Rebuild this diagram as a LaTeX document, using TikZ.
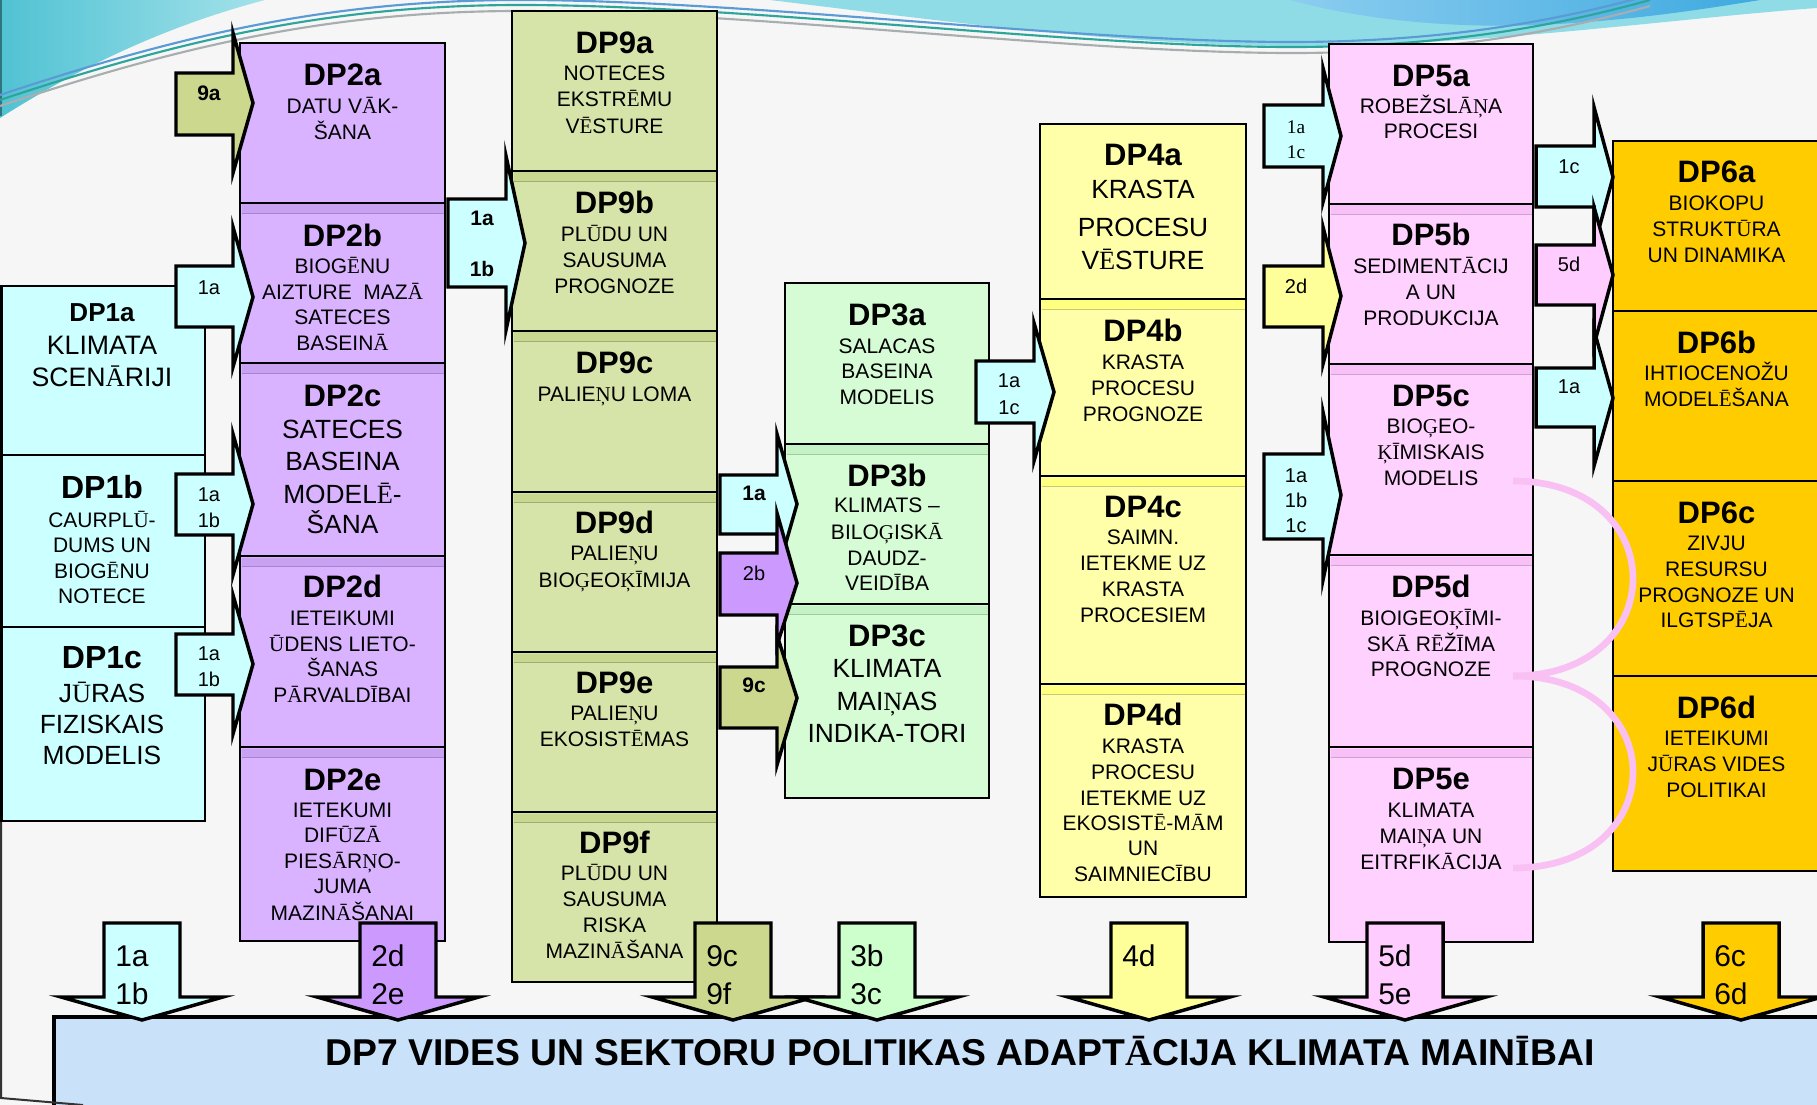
\documentclass[tikz,border=0pt]{standalone}
\usepackage{fontspec}
\setmainfont{Liberation Sans}
\newfontfamily\serifnum{Liberation Serif}
\newXeTeXintercharclass\mcls
\XeTeXcharclass"0100=\mcls
\XeTeXcharclass"0112=\mcls
\XeTeXcharclass"012A=\mcls
\XeTeXcharclass"016A=\mcls
\XeTeXcharclass"0145=\mcls
\XeTeXcharclass"0136=\mcls
\XeTeXcharclass"0122=\mcls
\XeTeXinterchartoks 0 \mcls = {\begingroup\serifnum}
\XeTeXinterchartoks 4095 \mcls = {\begingroup\serifnum}
\XeTeXinterchartoks \mcls 0 = {\endgroup}
\XeTeXinterchartoks \mcls 4095 = {\endgroup}
\definecolor{bg}{HTML}{F6F6F6}
\definecolor{cA}{HTML}{CCFFFF}
\definecolor{cB}{HTML}{D9B3FF}\definecolor{cBb}{HTML}{C9A1F2}\definecolor{cBl}{HTML}{A585D0}
\definecolor{cN}{HTML}{D7E4A9}\definecolor{cNb}{HTML}{C9D88F}\definecolor{cNl}{HTML}{9FAE78}
\definecolor{cC}{HTML}{D6FCD6}\definecolor{cCb}{HTML}{C4F2C4}\definecolor{cCl}{HTML}{9CCB9C}
\definecolor{cD}{HTML}{FFFFAA}\definecolor{cDb}{HTML}{FFFF80}\definecolor{cDl}{HTML}{C8C878}
\definecolor{cE}{HTML}{FFD1FF}\definecolor{cEb}{HTML}{F7C0F7}\definecolor{cEl}{HTML}{D0A0D0}
\definecolor{cF}{HTML}{FFCC00}
\definecolor{cG}{HTML}{C9E2F9}
\definecolor{aCyan}{HTML}{CCFFFF}
\definecolor{aOlive}{HTML}{CCD88E}
\definecolor{aPurple}{HTML}{CC99FF}
\definecolor{aYellow}{HTML}{FFFF99}
\definecolor{aPink}{HTML}{FFCCFF}
\definecolor{aGreen}{HTML}{CCFFCC}
\definecolor{aOrange}{HTML}{FFCC00}
\definecolor{tealA}{HTML}{50C2D3}
\definecolor{tealB}{HTML}{A4E2EA}
\definecolor{bandblue}{HTML}{8FDCE7}
\definecolor{lensA}{HTML}{8CCDF0}
\definecolor{lensB}{HTML}{3FAADF}
\definecolor{lineteal}{HTML}{2EA59A}
\definecolor{lineblue}{HTML}{5B9BD5}
\definecolor{linegray}{HTML}{A8AEB0}
\definecolor{arcpink}{HTML}{F9C0F3}
\newcounter{tnode}
\newcommand\tline[5]{\stepcounter{tnode}\node[anchor=base,inner sep=0pt,font={\fontsize{#3}{#3}\selectfont#4}] (t\thetnode) at (#1,{#2+0.477*#3}) {#5};}
\newcommand\tlinew[5]{\stepcounter{tnode}\node[anchor=base west,inner sep=0pt,font={\fontsize{#3}{#3}\selectfont#4}] (t\thetnode) at (#1,{#2+0.477*#3}) {#5};}
\newcommand\ttl[3]{\tline{#1}{#2}{23.25}{\bfseries}{#3}}
\newcommand\bdy[3]{\tline{#1}{#2}{15.75}{}{#3}}
\newcommand\bgy[3]{\tline{#1}{#2}{19.75}{}{#3}}
\newcommand\alab[3]{\tline{#1}{#2}{15}{}{#3}}
\newcommand\alabb[3]{\tline{#1}{#2}{15.75}{\bfseries}{#3}}
\newcommand\dlab[3]{\tlinew{#1-27}{#2}{22.5}{}{#3}}
\newcommand\dpbox[6]{\node[boxline, fill=#6, inner sep=0pt, outer sep=0pt, minimum width={(#4-#2)*0.75pt}, minimum height={(#5-#3)*0.75pt}] (#1) at ({(#2+#4)/2},{(#3+#5)/2}) {};}
\newcommand\band[5]{\fill[#4] (#1+1.5,#3+1.5) rectangle (#2-1.5,#3+10); \draw[#5, line width=0.7pt] (#1+1.5,#3+10) -- (#2-1.5,#3+10);}
\newcommand\rarr[9]{\draw[arrowline, fill=#9] (#1,#4) -- (#2,#4) -- (#2,#6) -- (#3,#8) -- (#2,#7) -- (#2,#5) -- (#1,#5) -- cycle;}
\newcommand\darr[2]{\draw[arrowline, fill=#2] (#1-38,923) -- (#1+38,923) -- (#1+38,997) -- (#1+81,997) -- (#1,1020) -- (#1-81,997) -- (#1-38,997) -- cycle;}
\tikzset{
  boxline/.style={draw=black, line width=1.8pt},
  arrowline/.style={draw=black, line width=2.6pt, line join=miter, miter limit=12},
}
\begin{document}
\XeTeXinterchartokenstate=1
\begin{tikzpicture}[x=0.75pt,y=-0.75pt]
\useasboundingbox (0,0) rectangle (1817,1105);
\clip (0,0) rectangle (1817,1105);
\fill[bg] (0,0) rectangle (1817,1105);
% top decorations
\shade[left color=tealA, right color=tealB] (0,0) -- (0,118) .. controls (85,64) and (170,25) .. (265,0) -- cycle;
\draw[line width=2pt, tealA!60!black] (1,0) -- (1,116);
\fill[bandblue] (770,0) .. controls (950,22) and (1130,46) .. (1300,46) .. controls (1480,46) and (1680,18) .. (1817,8) -- (1817,0) -- cycle;
\shade[left color=lensA, right color=lensB] (1290,0) .. controls (1370,22) and (1460,28) .. (1540,25) .. controls (1640,20) and (1710,8) .. (1760,0) -- cycle;
\foreach \dy/\col in {-5/lineblue, 0/lineteal, 6/linegray} {
  \draw[\col, line width=1.6pt] (0,100+\dy) .. controls (180,40+\dy) and (330,5+\dy) .. (520,5+\dy) .. controls (750,5+\dy) and (1080,48+\dy) .. (1300,47+\dy) .. controls (1450,46+\dy) and (1560,25+\dy) .. (1650,0+\dy);
}
% DP7 bar
\node[boxline, line width=2.4pt, fill=cG, inner sep=0pt, outer sep=0pt, minimum width={(1850-54)*0.75pt}, minimum height={(1150-1017)*0.75pt}] (dp7) at ({(54+1850)/2},{(1017+1150)/2}) {};
\draw[line width=1.5pt, black!80] (1,821) -- (1,1098) -- (83,1105);
% DP1
\dpbox{dp1a}{1.5}{286}{205}{455}{cA}
\dpbox{dp1b}{1.5}{455}{205}{627}{cA}
\dpbox{dp1c}{1.5}{627}{205}{821}{cA}
% DP2
\dpbox{dp2a}{240}{43}{445}{203}{cB}
\dpbox{dp2b}{240}{203}{445}{363}{cB}
\dpbox{dp2c}{240}{363}{445}{556}{cB}
\dpbox{dp2d}{240}{556}{445}{747}{cB}
\dpbox{dp2e}{240}{747}{445}{941}{cB}
\foreach \yy in {203,363,556,747} {\band{240}{445}{\yy}{cBb}{cBl}}
% DP9
\dpbox{dp9a}{512}{11}{717}{171}{cN}
\dpbox{dp9b}{512}{171}{717}{331}{cN}
\dpbox{dp9c}{512}{331}{717}{492}{cN}
\dpbox{dp9d}{512}{492}{717}{652}{cN}
\dpbox{dp9e}{512}{652}{717}{812}{cN}
\dpbox{dp9f}{512}{812}{717}{982}{cN}
\foreach \yy in {171,331,492,652,812} {\band{512}{717}{\yy}{cNb}{cNl}}
% DP3
\dpbox{dp3a}{785}{283}{989}{444}{cC}
\dpbox{dp3b}{785}{444}{989}{604}{cC}
\dpbox{dp3c}{785}{604}{989}{798}{cC}
\foreach \yy in {444,604} {\band{785}{989}{\yy}{cCb}{cCl}}
% DP4
\dpbox{dp4a}{1040}{124}{1246}{299}{cD}
\dpbox{dp4b}{1040}{299}{1246}{476}{cD}
\dpbox{dp4c}{1040}{476}{1246}{684}{cD}
\dpbox{dp4d}{1040}{684}{1246}{897}{cD}
\foreach \yy in {299,476,684} {\band{1040}{1246}{\yy}{cDb}{cDl}}
% DP5
\dpbox{dp5a}{1329}{44}{1533}{204}{cE}
\dpbox{dp5b}{1329}{204}{1533}{364}{cE}
\dpbox{dp5c}{1329}{364}{1533}{555}{cE}
\dpbox{dp5d}{1329}{555}{1533}{747}{cE}
\dpbox{dp5e}{1329}{747}{1533}{942}{cE}
\foreach \yy in {204,364,555,747} {\band{1329}{1533}{\yy}{cEb}{cEl}}
% DP6
\dpbox{dp6a}{1613}{141}{1821}{311}{cF}
\dpbox{dp6b}{1613}{311}{1821}{481}{cF}
\dpbox{dp6c}{1613}{481}{1821}{676}{cF}
\dpbox{dp6d}{1613}{676}{1821}{871}{cF}
% pink arcs
\draw[arcpink, line width=5pt] (1513,481) .. controls (1673,481) and (1673,676) .. (1513,676);
\draw[arcpink, line width=5pt] (1513,676) .. controls (1673,676) and (1673,868) .. (1513,868);
% side arrows
\rarr{176}{233}{253}{73}{135}{33}{173}{103}{aOlive}
\rarr{176}{233}{253}{266}{327}{227}{367}{297}{aCyan}
\rarr{176}{233}{253}{474}{535}{434}{575}{504}{aCyan}
\rarr{176}{233}{253}{634}{695}{595}{734}{664}{aCyan}
\rarr{448}{506}{525}{199}{287}{156}{330}{243}{aCyan}
\rarr{720}{777}{797}{475}{534}{434}{574}{504}{aCyan}
\rarr{720}{777}{797}{553}{615}{513}{645}{583}{aPurple}
\rarr{720}{777}{797}{667}{728}{635}{765}{698}{aOlive}
\rarr{976}{1034}{1054}{361}{423}{323}{461}{392}{aCyan}
\rarr{1264}{1323}{1341}{105}{167}{68}{202}{136}{aCyan}
\rarr{1264}{1323}{1341}{266}{327}{227}{364}{296}{aYellow}
\rarr{1264}{1323}{1341}{454}{539}{412}{580}{495}{aCyan}
\rarr{1536}{1594}{1613}{146}{207}{107}{247}{177}{aCyan}
\rarr{1536}{1594}{1613}{245}{305}{207}{345}{275}{aPink}
\rarr{1536}{1594}{1613}{368}{427}{330}{466}{398}{aCyan}
% side arrow labels
\alabb{209}{93}{9a}
\alab{209}{287}{1a}
\alab{209}{494}{1a}\alab{209}{520}{1b}
\alab{209}{653}{1a}\alab{209}{679}{1b}
\alabb{482}{218}{1a}\alabb{482}{269}{1b}
\alabb{754}{493}{1a}
\alab{754}{573}{2b}
\alabb{754}{685}{9c}
\alab{1009}{380}{1a}\alab{1009}{407}{1c}
\tline{1296}{127}{14.5}{\serifnum}{1a}\tline{1296}{152}{14.5}{\serifnum}{1c}
\alab{1296}{286}{2d}
\alab{1296}{475}{1a}\alab{1296}{500}{1b}\alab{1296}{525}{1c}
\alab{1569}{166}{1c}
\alab{1569}{264}{5d}
\alab{1569}{386}{1a}
% bottom arrows
\darr{142}{aCyan}
\darr{398}{aPurple}
\darr{733}{aOlive}
\darr{877}{aGreen}
\darr{1149}{aYellow}
\darr{1405}{aPink}
\darr{1741}{aOrange}
\dlab{142}{956}{1a}\dlab{142}{994}{1b}
\dlab{398}{956}{2d}\dlab{398}{994}{2e}
\dlab{733}{956}{9c}\dlab{733}{994}{9f}
\dlab{877}{956}{3b}\dlab{877}{994}{3c}
\dlab{1149}{956}{4d}
\dlab{1405}{956}{5d}\dlab{1405}{994}{5e}
\dlab{1741}{956}{6c}\dlab{1741}{994}{6d}
\tline{960}{1052.5}{28}{\bfseries}{DP7 VIDES UN SEKTORU POLITIKAS ADAPTĀCIJA KLIMATA MAINĪBAI}
% DP1 texts
\tline{102}{312}{19.5}{\bfseries}{DP1a}
\tline{102}{345}{20}{}{KLIMATA}\tline{102}{377}{20}{}{SCENĀRIJI}
\tline{102}{487.5}{24}{\bfseries}{DP1b}
\bdy{102}{520}{CAURPLŪ-}\bdy{102}{545}{DUMS UN}\bdy{102}{571}{BIOGĒNU}\bdy{102}{596}{NOTECE}
\tline{102}{657}{24}{\bfseries}{DP1c}
\bgy{102}{693}{JŪRAS}\bgy{102}{724}{FIZISKAIS}\bgy{102}{755}{MODELIS}
% DP2 texts
\ttl{342.5}{74}{DP2a}
\bdy{342.5}{106}{DATU VĀK-}\bdy{342.5}{132}{ŠANA}
\ttl{342.5}{235}{DP2b}
\bdy{342.5}{266}{BIOGĒNU}\bdy{342.5}{292}{AIZTURE\ \ MAZĀ}\bdy{342.5}{317}{SATECES}\bdy{342.5}{343}{BASEINĀ}
\ttl{342.5}{395}{DP2c}
\bgy{342.5}{429}{SATECES}\bgy{342.5}{461}{BASEINA}\bgy{342.5}{494}{MODELĒ-}\bgy{342.5}{524}{ŠANA}
\ttl{342.5}{586}{DP2d}
\bdy{342.5}{618}{IETEIKUMI}\bdy{342.5}{644}{ŪDENS LIETO-}\bdy{342.5}{669}{ŠANAS}\bdy{342.5}{695}{PĀRVALDĪBAI}
\ttl{342.5}{779}{DP2e}
\bdy{342.5}{810}{IETEKUMI}\bdy{342.5}{835}{DIFŪZĀ}\bdy{342.5}{861}{PIESĀRŅO-}\bdy{342.5}{886}{JUMA}\bdy{342.5}{913}{MAZINĀŠANAI}
% DP9 texts
\ttl{614.5}{42}{DP9a}
\bdy{614.5}{73}{NOTECES}\bdy{614.5}{99}{EKSTRĒMU}\bdy{614.5}{126}{VĒSTURE}
\ttl{614.5}{202}{DP9b}
\bdy{614.5}{234}{PLŪDU UN}\bdy{614.5}{260}{SAUSUMA}\bdy{614.5}{286}{PROGNOZE}
\ttl{614.5}{362.5}{DP9c}
\bdy{614.5}{393.6}{PALIEŅU LOMA}
\ttl{614.5}{522}{DP9d}
\bdy{614.5}{553}{PALIEŅU}\bdy{614.5}{580}{BIOĢEOĶĪMIJA}
\ttl{614.5}{682}{DP9e}
\bdy{614.5}{713}{PALIEŅU}\bdy{614.5}{739}{EKOSISTĒMAS}
\ttl{614.5}{842}{DP9f}
\bdy{614.5}{873}{PLŪDU UN}\bdy{614.5}{899}{SAUSUMA}\bdy{614.5}{925}{RISKA}\bdy{614.5}{951}{MAZINĀŠANA}
% DP3 texts
\ttl{887}{314}{DP3a}
\bdy{887}{346}{SALACAS}\bdy{887}{371}{BASEINA}\bdy{887}{397}{MODELIS}
\ttl{887}{475}{DP3b}
\bdy{887}{505}{KLIMATS –}\bdy{887}{532}{BILOĢISKĀ}\bdy{887}{558}{DAUDZ-}\bdy{887}{583}{VEIDĪBA}
\ttl{887}{635}{DP3c}
\bgy{887}{668}{KLIMATA}\bgy{887}{701}{MAIŅAS}\bgy{887}{733}{INDIKA-TORI}
% DP4 texts
\ttl{1143}{154}{DP4a}
\bgy{1143}{189}{KRASTA}\bgy{1143}{227}{PROCESU}\bgy{1143}{260}{VĒSTURE}
\ttl{1143}{330}{DP4b}
\bdy{1143}{362}{KRASTA}\bdy{1143}{387.5}{PROCESU}\bdy{1143}{413.6}{PROGNOZE}
\ttl{1143}{506}{DP4c}
\bdy{1143}{537}{SAIMN.}\bdy{1143}{563}{IETEKME UZ}\bdy{1143}{589}{KRASTA}\bdy{1143}{615}{PROCESIEM}
\ttl{1143}{714}{DP4d}
\bdy{1143}{746}{KRASTA}\bdy{1143}{772}{PROCESU}\bdy{1143}{798}{IETEKME UZ}\bdy{1143}{823}{EKOSISTĒ-MĀM}\bdy{1143}{848}{UN}\bdy{1143}{874}{SAIMNIECĪBU}
% DP5 texts
\ttl{1431}{75}{DP5a}
\bdy{1431}{106}{ROBEŽSLĀŅA}\bdy{1431}{131}{PROCESI}
\ttl{1431}{234}{DP5b}
\bdy{1431}{266}{SEDIMENTĀCIJ}\bdy{1431}{292}{A UN}\bdy{1431}{318}{PRODUKCIJA}
\ttl{1431}{395}{DP5c}
\bdy{1431}{426}{BIOĢEO-}\bdy{1431}{452}{ĶĪMISKAIS}\bdy{1431}{478}{MODELIS}
\ttl{1431}{586}{DP5d}
\bdy{1431}{618}{BIOIGEOĶĪMI-}\bdy{1431}{644}{SKĀ RĒŽĪMA}\bdy{1431}{669}{PROGNOZE}
\ttl{1431}{778}{DP5e}
\bdy{1431}{810}{KLIMATA}\bdy{1431}{836}{MAIŅA UN}\bdy{1431}{862}{EITRFIKĀCIJA}
% DP6 texts
\ttl{1716.5}{171.4}{DP6a}
\bdy{1716.5}{203}{BIOKOPU}\bdy{1716.5}{228.6}{STRUKTŪRA}\bdy{1716.5}{254.6}{UN DINAMIKA}
\ttl{1716.5}{342}{DP6b}
\bdy{1716.5}{373}{IHTIOCENOŽU}\bdy{1716.5}{399}{MODELĒŠANA}
\ttl{1716.5}{512}{DP6c}
\bdy{1716.5}{543}{ZIVJU}\bdy{1716.5}{569}{RESURSU}\bdy{1716.5}{595}{PROGNOZE UN}\bdy{1716.5}{620}{ILGTSPĒJA}
\ttl{1716.5}{707}{DP6d}
\bdy{1716.5}{738}{IETEIKUMI}\bdy{1716.5}{764}{JŪRAS VIDES}\bdy{1716.5}{790}{POLITIKAI}
\end{tikzpicture}
\end{document}
